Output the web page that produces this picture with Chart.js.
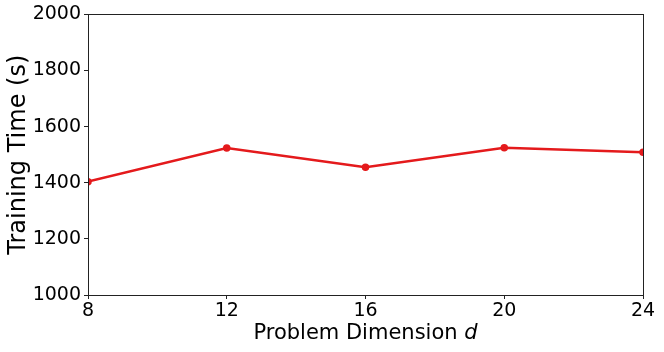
<!DOCTYPE html>
<html>
<head>
<meta charset="utf-8">
<script src="https://cdn.jsdelivr.net/npm/chart.js@4"></script>
<style>
  html, body { margin: 0; padding: 0; background: #fff; }
  #wrap { width: 664px; height: 352px; }
</style>
</head>
<body>
<div id="wrap"><canvas id="timeChart" width="664" height="352"></canvas></div>
<script>
// datos
const dimensions = [8, 12, 16, 20, 24];
const trainingTimes = [1404, 1524, 1455, 1525, 1509];
const xTicks = [8, 12, 16, 20, 24];
const yTicks = [1000, 1200, 1400, 1600, 1800, 2000];

const FONT = "'DejaVu Sans', sans-serif";

// marco completo como en matplotlib + título del eje x con la d en cursiva
const frameBox = {
    id: 'frameBox',
    afterDraw(chart) {
        const a = chart.chartArea;
        const c = chart.ctx;
        c.save();
        c.strokeStyle = '#222';
        c.lineWidth = 1;
        c.strokeRect(Math.round(a.left) + 0.5, Math.round(a.top) + 0.5,
            Math.round(a.right - a.left), Math.round(a.bottom - a.top));

        const main = 'Problem Dimension ';
        const ital = 'd';
        c.fillStyle = '#000';
        c.textBaseline = 'middle';
        c.textAlign = 'left';
        c.font = '21px ' + FONT;
        const w1 = c.measureText(main).width;
        c.font = 'italic 21px ' + FONT;
        const w2 = c.measureText(ital).width;
        let x = (a.left + a.right) / 2 - (w1 + w2) / 2;
        const y = 334;
        c.font = '21px ' + FONT;
        c.fillText(main, x, y);
        c.font = 'italic 21px ' + FONT;
        c.fillText(ital, x + w1, y);
        c.restore();
    }
};

const ctx = document.getElementById('timeChart').getContext('2d');
new Chart(ctx, {
    type: 'line',
    data: {
        datasets: [{
            label: 'Training Time',
            data: dimensions.map((d, i) => ({ x: d, y: trainingTimes[i] })),
            borderColor: '#e41a1c',
            backgroundColor: '#e41a1c',
            borderWidth: 2.5,
            pointRadius: 2.5,
            pointHoverRadius: 2.5,
            tension: 0
        }]
    },
    options: {
        responsive: false,
        animation: false,
        layout: { padding: { top: 14, right: 21, left: 0, bottom: 0 } },
        plugins: {
            legend: { display: false },
            tooltip: { enabled: false }
        },
        scales: {
            x: {
                type: 'linear',
                min: 8,
                max: 24,
                afterBuildTicks: axis => { axis.ticks = xTicks.map(v => ({ value: v })); },
                afterFit: axis => { axis.height = 57; },
                grid: { drawOnChartArea: false, tickLength: 4, color: '#222' },
                border: { color: '#222' },
                ticks: {
                    color: '#000',
                    font: { family: FONT, size: 19 },
                    padding: 1,
                    maxRotation: 0,
                    callback: v => String(v)
                },
                title: { display: false }
            },
            y: {
                min: 1000,
                max: 2000,
                afterBuildTicks: axis => { axis.ticks = yTicks.map(v => ({ value: v })); },
                afterFit: axis => { axis.width = 88; },
                grid: { drawOnChartArea: false, tickLength: 4, color: '#222' },
                border: { color: '#222' },
                ticks: {
                    color: '#000',
                    font: { family: FONT, size: 19 },
                    padding: 3,
                    callback: v => String(v)
                },
                title: {
                    display: true,
                    text: 'Training Time (s)',
                    color: '#000',
                    font: { family: FONT, size: 24 },
                    padding: { top: 4, bottom: 0 }
                }
            }
        }
    },
    plugins: [frameBox]
});
</script>
</body>
</html>
